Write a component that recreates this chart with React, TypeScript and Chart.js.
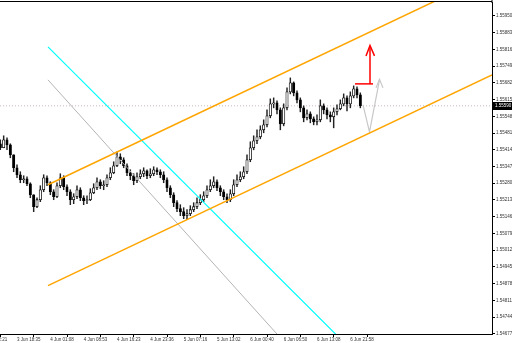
import React, { useEffect, useRef } from "react";
import { Chart, registerables } from "chart.js";

Chart.register(...registerables);

// ---------- data ----------
const OPEN0 = 1.55438;
const CLOSE = [
  1.55422, 1.55454, 1.55434, 1.55394, 1.55342, 1.55314, 1.55294, 1.55298, 1.55278, 1.55234,
  1.55186, 1.55214, 1.55254, 1.55302, 1.55282, 1.55246, 1.55226, 1.5527, 1.55302, 1.55266,
  1.55246, 1.55214, 1.55226, 1.55254, 1.55222, 1.5521, 1.55214, 1.55242, 1.55262, 1.55286,
  1.5527, 1.55274, 1.55302, 1.55322, 1.5535, 1.55386, 1.55374, 1.5535, 1.55322, 1.5531,
  1.5529, 1.55306, 1.55318, 1.5533, 1.5531, 1.55318, 1.55334, 1.55326, 1.55314, 1.55294,
  1.55262, 1.55234, 1.55202, 1.55178, 1.55166, 1.5515, 1.55158, 1.55174, 1.55186, 1.55202,
  1.55214, 1.5523, 1.55254, 1.5527, 1.55286, 1.55262, 1.55246, 1.55226, 1.55214, 1.55238,
  1.55274, 1.55294, 1.55306, 1.55326, 1.55374, 1.55422, 1.5545, 1.55466, 1.55494, 1.55514,
  1.5555, 1.55598, 1.55602, 1.55574, 1.55518, 1.55582, 1.55646, 1.55682, 1.55642, 1.55614,
  1.55582, 1.55542, 1.55558, 1.55538, 1.55526, 1.55534, 1.5559, 1.55574, 1.55554, 1.55546,
  1.55566, 1.55578, 1.55598, 1.55622, 1.55598, 1.5563, 1.55658, 1.55634, 1.5559,
];
const HIGH = [
  1.55454, 1.5547, 1.55462, 1.55438, 1.55394, 1.55354, 1.55326, 1.5531, 1.55306, 1.55282,
  1.55234, 1.55222, 1.5527, 1.55314, 1.5531, 1.55286, 1.55254, 1.55282, 1.55318, 1.5531,
  1.55274, 1.55254, 1.55238, 1.5527, 1.55262, 1.5523, 1.5523, 1.55258, 1.55278, 1.55302,
  1.55294, 1.5529, 1.55314, 1.55342, 1.55366, 1.55406, 1.55398, 1.55382, 1.55358, 1.55334,
  1.55318, 1.55322, 1.55334, 1.55342, 1.55334, 1.55338, 1.55346, 1.55342, 1.55334, 1.55326,
  1.55302, 1.5527, 1.55242, 1.5521, 1.55194, 1.55182, 1.55174, 1.5519, 1.55202, 1.55222,
  1.55234, 1.55246, 1.5527, 1.55294, 1.55306, 1.55294, 1.5527, 1.55254, 1.55238, 1.55254,
  1.55294, 1.55314, 1.55326, 1.55346, 1.55394, 1.55446, 1.5547, 1.55494, 1.5551, 1.55534,
  1.55574, 1.55618, 1.55622, 1.5561, 1.55582, 1.55598, 1.55662, 1.55702, 1.55686, 1.5565,
  1.55622, 1.5559, 1.55574, 1.55566, 1.55546, 1.55554, 1.55614, 1.55598, 1.55582, 1.55566,
  1.55582, 1.55594, 1.55614, 1.55638, 1.5563, 1.55646, 1.5567, 1.55666, 1.55642,
];
const LOW = [
  1.55414, 1.55422, 1.55414, 1.55382, 1.55326, 1.55302, 1.55282, 1.55282, 1.5527, 1.55222,
  1.55166, 1.55182, 1.55206, 1.55246, 1.5527, 1.55234, 1.55214, 1.55222, 1.55262, 1.55254,
  1.5523, 1.55194, 1.55198, 1.55218, 1.5521, 1.55194, 1.55198, 1.5521, 1.55238, 1.55254,
  1.55258, 1.55254, 1.55266, 1.55294, 1.55318, 1.55346, 1.55358, 1.55342, 1.5531, 1.55294,
  1.55274, 1.55282, 1.55298, 1.55306, 1.55298, 1.55302, 1.5531, 1.55314, 1.55302, 1.55282,
  1.55246, 1.55222, 1.55186, 1.55166, 1.5515, 1.55138, 1.55134, 1.5515, 1.55166, 1.55178,
  1.55194, 1.55206, 1.55222, 1.55246, 1.55262, 1.5525, 1.5523, 1.55214, 1.55202, 1.55206,
  1.5523, 1.55266, 1.55286, 1.55298, 1.55318, 1.55366, 1.55414, 1.55438, 1.55458, 1.55482,
  1.55506, 1.55542, 1.55582, 1.55558, 1.55494, 1.5551, 1.55574, 1.55638, 1.5563, 1.55602,
  1.55566, 1.55526, 1.55534, 1.55522, 1.55514, 1.55514, 1.55526, 1.55558, 1.55538, 1.55526,
  1.55502, 1.55554, 1.55574, 1.5559, 1.5557, 1.55582, 1.55622, 1.55622, 1.55582,
];

const Y_TICKS = [
  1.5595, 1.55883, 1.55816, 1.55749, 1.55682, 1.55615, 1.55548, 1.55481, 1.55414, 1.55347,
  1.5528, 1.55213, 1.55146, 1.55079, 1.55012, 1.54945, 1.54878, 1.54811, 1.54744, 1.54677,
];
const X_TICKS = [-5, 5, 15, 25, 35, 45, 55, 65, 75, 85, 95, 105];
const X_TICK_LABELS = [
  "3 Jun 12:21", "3 Jun 18:35", "4 Jun 01:08", "4 Jun 08:53", "4 Jun 16:23", "4 Jun 23:36",
  "5 Jun 07:16", "5 Jun 13:02", "6 Jun 00:40", "6 Jun 06:50", "6 Jun 13:08", "6 Jun 21:58",
];

// drawn objects (x = bar index, y = price)
const UPPER_CHANNEL = [[14.3, 1.55274], [147.5, 1.56118]];
const LOWER_CHANNEL = [[14.3, 1.5487], [147.5, 1.55714]];
const CYAN_LINE = [[14.3, 1.55826], [101.9, 1.54658]];
const GRAY_LINE = [[14.3, 1.55694], [84.2, 1.54658]];
const RED_BASE = [[106.4, 1.55678], [111.8, 1.55678]];
const RED_STEM = [[110.9, 1.55678], [110.9, 1.5583]];
const RED_HEAD = [[109.7, 1.5579], [110.9, 1.55832], [112.25, 1.5579]];
const GRAY_PATH = [[108.8, 1.55594], [110.75, 1.55486], [113.75, 1.55694]];
const GRAY_HEAD = [[112.7, 1.55662], [113.75, 1.55696], [114.8, 1.55662]];

const X_MIN = -0.1;
const X_MAX = 147.5;
const Y_MIN = 1.54676;
const Y_MAX = 1.56006;
const FONT = "Liberation Sans";

const toPts = (a: number[][]) => a.map(([x, y]) => ({ x, y }));

export default function App() {
  const ref = useRef<HTMLCanvasElement>(null);
  useEffect(() => {
    document.body.style.margin = "0";
    if (!ref.current) return;
    const opens = CLOSE.map((c, i) => (i === 0 ? OPEN0 : CLOSE[i - 1]));
    const last = CLOSE[CLOSE.length - 1];
    const lineDs = (pts: number[][], color: string, width: number, dash: number[] = []) => ({
      type: "line" as const,
      data: toPts(pts),
      borderColor: color,
      borderWidth: width,
      borderDash: dash,
      pointRadius: 0,
      fill: false,
      tension: 0,
      order: 0,
    });
    const pricePlugin = {
      id: "mt4frame",
      afterDraw(chart: any) {
        const ctx = chart.ctx;
        const ca = chart.chartArea;
        ctx.save();
        ctx.fillStyle = "#000";
        ctx.fillRect(0, 1, ca.right, 1);
        ctx.fillRect(ca.right - 0.5, 0, 1, ca.top + 1);
        const y = chart.scales.y.getPixelForValue(last);
        ctx.fillStyle = "#000";
        ctx.fillRect(ca.right, Math.round(y) - 4, 20, 8);
        ctx.fillStyle = "#fff";
        ctx.font = `4.5px "${FONT}"`;
        ctx.textBaseline = "middle";
        ctx.textAlign = "left";
        ctx.fillText(last.toFixed(5), ca.right + 3, Math.round(y));
        ctx.restore();
      },
    };
    const chart = new Chart(ref.current, {
      type: "bar",
      data: {
        datasets: [
          lineDs(UPPER_CHANNEL, "#ffa500", 1.5),
          lineDs(LOWER_CHANNEL, "#ffa500", 1.5),
          lineDs(CYAN_LINE, "#00ffff", 1.2),
          lineDs(GRAY_LINE, "#b4b4b4", 1),
          lineDs(RED_BASE, "#ff0000", 1.5),
          lineDs(RED_STEM, "#ff0000", 1.5),
          lineDs(RED_HEAD, "#ff0000", 1.5),
          lineDs(GRAY_PATH, "#c8c8c8", 1.2),
          lineDs(GRAY_HEAD, "#c8c8c8", 1.2),
          { ...lineDs([[X_MIN, last], [X_MAX, last]], "#c8bcbc", 1, [1, 2]), order: 3 },
          {
            type: "bar" as const,
            data: CLOSE.map((c, i) => ({ x: i, y: [opens[i], c] })) as any,
            backgroundColor: CLOSE.map((c, i) => (c >= opens[i] ? "#ffffff" : "#000000")),
            borderColor: "#000",
            borderWidth: 0.8,
            borderSkipped: false,
            barThickness: 2.4,
            grouped: false,
            order: 1,
          },
          {
            type: "bar" as const,
            data: CLOSE.map((c, i) => ({ x: i, y: [LOW[i], HIGH[i]] })) as any,
            backgroundColor: "#222",
            borderWidth: 0,
            barThickness: 0.8,
            grouped: false,
            order: 2,
          },
        ] as any,
      },
      options: {
        animation: false,
        responsive: true,
        maintainAspectRatio: false,
        layout: { padding: { top: 2, left: 0, right: 0, bottom: 0 } },
        plugins: { legend: { display: false }, tooltip: { enabled: false } },
        scales: {
          x: {
            type: "linear",
            min: X_MIN,
            max: X_MAX,
            offset: false,
            bounds: "data",
            afterBuildTicks: (s: any) => {
              s.ticks = X_TICKS.map((v) => ({ value: v }));
            },
            afterFit: (s: any) => {
              s.height = 9;
              s.paddingLeft = 0;
              s.paddingRight = 0;
            },
            ticks: {
              callback: (_v: any, i: number) => X_TICK_LABELS[i],
              autoSkip: false,
              maxRotation: 0,
              minRotation: 0,
              align: "start",
              padding: 0,
              font: { size: 4.5, family: FONT },
              color: "#333",
            },
            grid: { drawOnChartArea: false, drawTicks: true, tickLength: 3, color: "#000" },
            border: { display: true, color: "#000", width: 1 },
          },
          y: {
            type: "linear",
            position: "right",
            min: Y_MIN,
            max: Y_MAX,
            bounds: "data",
            afterBuildTicks: (s: any) => {
              s.ticks = Y_TICKS.map((v) => ({ value: v }));
            },
            afterFit: (s: any) => {
              s.width = 20;
              s.paddingTop = 0;
              s.paddingBottom = 0;
            },
            ticks: {
              callback: (v: any) => Number(v).toFixed(5),
              padding: 1,
              font: { size: 4.5, family: FONT },
              color: "#333",
            },
            grid: { drawOnChartArea: false, drawTicks: true, tickLength: 3, color: "#000" },
            border: { display: true, color: "#000", width: 1 },
          },
        },
      } as any,
      plugins: [pricePlugin],
    });
    return () => chart.destroy();
  }, []);
  return (
    <div style={{ width: 512, height: 343, position: "relative" }}>
      <canvas ref={ref} />
    </div>
  );
}
